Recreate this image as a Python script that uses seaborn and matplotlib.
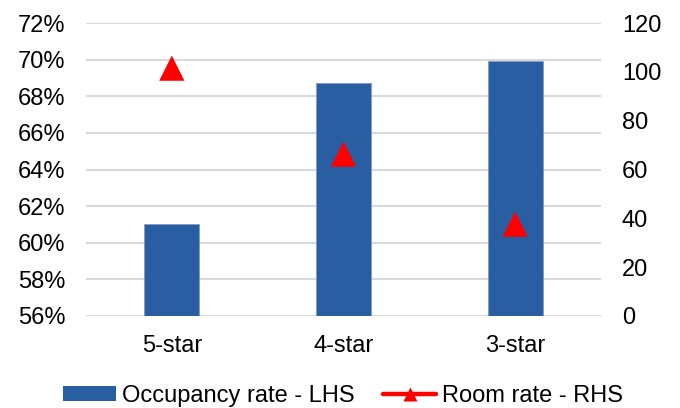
import matplotlib
matplotlib.use("Agg")
import matplotlib.pyplot as plt
from matplotlib.lines import Line2D
from matplotlib.patches import Patch
from matplotlib.ticker import FuncFormatter, MultipleLocator
import pandas as pd
import seaborn as sns

# Hotel performance by star rating
categories = ["5-star", "4-star", "3-star"]
occupancy_rate = [61.0, 68.7, 69.9]   # %, left axis
room_rate = [101.5, 66.3, 37.6]        # right axis

BAR_COLOR = "#2A5EA2"
MARKER_COLOR = "#FF0000"
GRID_COLOR = "#D9D9D9"
FONT_SIZE = 17

sns.set_theme(style="white")
plt.rcParams["font.family"] = ["Liberation Sans", "DejaVu Sans"]
plt.rcParams["text.color"] = "#000000"

df = pd.DataFrame({"category": categories,
                   "occupancy": occupancy_rate,
                   "room_rate": room_rate})

fig, ax = plt.subplots(figsize=(6.8, 4.08), dpi=100)
fig.subplots_adjust(left=86 / 680, right=601 / 680, top=1 - 23 / 408, bottom=1 - 316 / 408)

# Occupancy bars on the left axis
sns.barplot(data=df, x="category", y="occupancy", color=BAR_COLOR, saturation=1,
            width=0.32, edgecolor="#7F9CC8", linewidth=0.6, ax=ax, zorder=2)
ax.set_ylim(56, 72)
ax.yaxis.set_major_locator(MultipleLocator(2))
ax.yaxis.set_major_formatter(FuncFormatter(lambda v, _: f"{v:.0f}%"))
ax.set_xlim(-0.5, 2.5)
ax.grid(axis="y", color=GRID_COLOR, linewidth=1.5, zorder=0)
ax.set_axisbelow(True)
ax.set_xlabel("")
ax.set_ylabel("")

# Room rate markers on the right axis
ax2 = ax.twinx()
sns.scatterplot(data=df, x="category", y="room_rate", marker="^", s=330,
                color=MARKER_COLOR, edgecolor="none", ax=ax2, zorder=3, legend=False)
ax2.set_ylim(0, 120)
ax2.yaxis.set_major_locator(MultipleLocator(20))
ax2.set_ylabel("")
ax2.set_xlim(-0.5, 2.5)

for a in (ax, ax2):
    for side in a.spines.values():
        side.set_visible(False)
    a.tick_params(axis="both", length=0, labelsize=FONT_SIZE, colors="#000000",
                  labelcolor="#000000")
ax.tick_params(axis="y", pad=15)
ax2.tick_params(axis="y", pad=15)
ax.tick_params(axis="x", pad=14)

handles = [
    Patch(facecolor=BAR_COLOR, edgecolor="none", label="Occupancy rate - LHS"),
    Line2D([0], [0], color=MARKER_COLOR, linewidth=3.2, marker="^", markersize=10,
           markeredgecolor="none", label="Room rate - RHS"),
]
leg = fig.legend(handles=handles, loc="center", bbox_to_anchor=(343 / 680, 1 - 396 / 408),
                 ncol=2, frameon=False, fontsize=FONT_SIZE, handlelength=2.25,
                 handleheight=0.6, handletextpad=0.25, columnspacing=1.2, borderaxespad=0)
for t in leg.get_texts():
    t.set_color("#000000")

fig.savefig("out.png", dpi=100)
